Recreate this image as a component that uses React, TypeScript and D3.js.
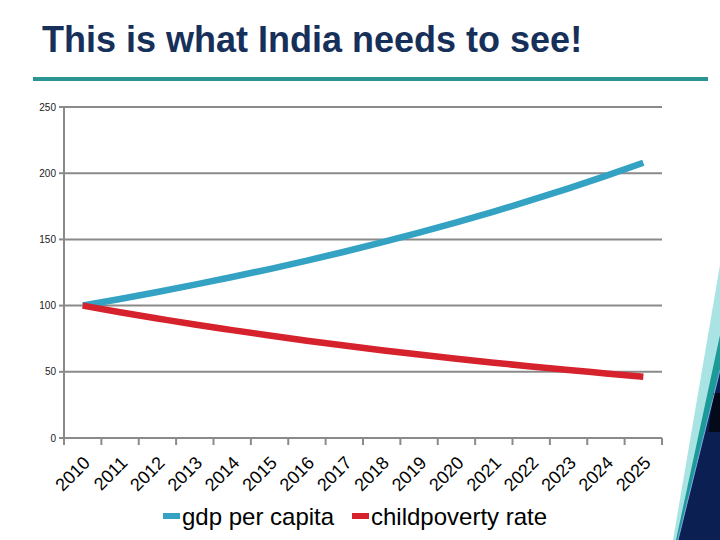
import React from "react";
import * as d3 from "d3";

const years = ["2010","2011","2012","2013","2014","2015","2016","2017","2018","2019","2020","2021","2022","2023","2024","2025"];
const gdpPerCapita = [100, 105, 110.3, 115.8, 121.6, 127.6, 134, 140.7, 147.7, 155.1, 162.9, 171, 179.6, 188.6, 198, 207.9];
const childPovertyRate = [100, 95, 90.3, 85.7, 81.5, 77.4, 73.5, 69.8, 66.3, 63, 59.9, 56.9, 54, 51.3, 48.8, 46.3];
const yTicks = [0, 50, 100, 150, 200, 250];
const seriesNames = ["gdp per capita", "childpoverty rate"];
const seriesColors = ["#34a2c3", "#d6222d"];

const W = 720, H = 540;
const left = 64, right = 662, top = 107, bottom = 438;

export default function App() {
  const x = d3.scaleBand<string>().domain(years).range([left, right]).padding(0);
  const y = d3.scaleLinear().domain([0, 250]).range([bottom, top]);
  const cx = (i: number) => (x(years[i]) as number) + x.bandwidth() / 2;
  const line = d3.line<number>().x((_, i) => cx(i)).y((d) => y(d)).curve(d3.curveMonotoneX);
  const series = [gdpPerCapita, childPovertyRate];
  const tickXs = years.map((yr) => x(yr) as number).concat([right]);
  const font = "Arial, 'Liberation Sans', sans-serif";

  return (
    <svg width={W} height={H} style={{ position: "absolute", left: 0, top: 0, background: "#fff" }} fontFamily={font}>
      <rect x={0} y={0} width={W} height={H} fill="#fff" />
      <text x={42} y={52} fontSize={36} fontWeight="bold" fill="#17305a">This is what India needs to see!</text>
      <rect x={33} y={77} width={675} height={4} fill="#2a9592" />

      {/* gridlines */}
      {yTicks.map((t) => (
        <line key={t} x1={left} x2={right} y1={y(t)} y2={y(t)} stroke="#8a8a8a" strokeWidth={2} />
      ))}
      <line x1={left} x2={left} y1={top} y2={bottom} stroke="#8a8a8a" strokeWidth={2} />
      {yTicks.map((t) => (
        <g key={"yt" + t}>
          <line x1={left - 5} x2={left} y1={y(t)} y2={y(t)} stroke="#8a8a8a" strokeWidth={2} />
          <text x={56} y={y(t) + 3.5} fontSize={10} textAnchor="end" fill="#222">{t}</text>
        </g>
      ))}
      {tickXs.map((tx, i) => (
        <line key={"xt" + i} x1={tx} x2={tx} y1={bottom} y2={bottom + 7} stroke="#8a8a8a" strokeWidth={2} />
      ))}
      {years.map((yr, i) => (
        <text key={yr} transform={`translate(${cx(i) + 8.5},${bottom + 26}) rotate(-45)`} textAnchor="end" fontSize={18} fill="#000">{yr}</text>
      ))}

      {series.map((s, k) => (
        <path key={k} d={line(s) || ""} fill="none" stroke={seriesColors[k]} strokeWidth={6.5} strokeLinecap="butt" />
      ))}

      {/* legend */}
      <rect x={163} y={513} width={17} height={6} fill={seriesColors[0]} />
      <text x={182} y={525} fontSize={24} fill="#000">{seriesNames[0]}</text>
      <rect x={352} y={513} width={17} height={6} fill={seriesColors[1]} />
      <text x={371} y={525} fontSize={24} fill="#000">{seriesNames[1]}</text>

      {/* decoration */}
      <polygon points="720,265 673,540 720,540" fill="#a9e3e3" />
      <polygon points="720,335 676,540 720,540" fill="#1b9a98" />
      <polygon points="720,370 678,540 720,540" fill="#0b1f52" />
      <polygon points="720,393 713.4,393 708.5,432 720,432" fill="#050a1a" />
      <line x1={720} y1={370} x2={678} y2={540} stroke="#7fa8e8" strokeWidth={1} />
    </svg>
  );
}
